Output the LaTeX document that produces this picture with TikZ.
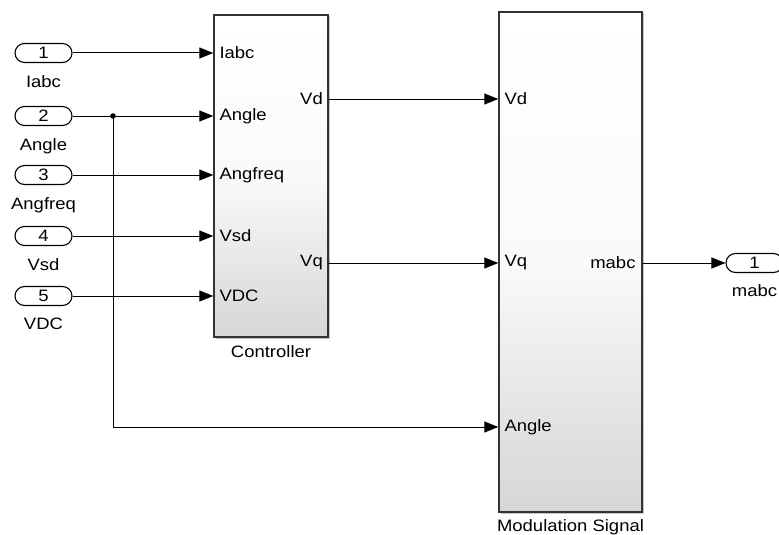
\documentclass[tikz,border=0pt]{standalone}
\usepackage{fontspec}
\setmainfont[FakeStretch=1.12]{Liberation Sans}
\usetikzlibrary{positioning,arrows.meta,shadows}

\begin{document}
\begin{tikzpicture}[x=1pt,y=-1pt,
		font=\fontsize{16.5}{19}\selectfont,
		port/.style={draw,line width=1.1pt,rounded corners=9.5pt,minimum width=57pt,minimum height=19pt,inner sep=0pt},
		blk/.style={draw=black!80,line width=1.4pt,top color=white,bottom color=black!16,middle color=black!2,
			drop shadow={shadow xshift=1.5pt,shadow yshift=-1.5pt,fill=black!45}},
		lbl/.style={inner sep=0pt,text height=12pt,text depth=3.5pt},
		sig/.style={line width=1pt,-{Triangle[length=14pt,width=11pt]}}]
	\useasboundingbox (0,0) rectangle (779,535);

	\node[port] (in1) at (43.5,53) {1};
	\node[port] (in2) at (43.5,116) {2};
	\node[port] (in3) at (43.5,175) {3};
	\node[port] (in4) at (43.5,236) {4};
	\node[port] (in5) at (43.5,296) {5};
	\node[lbl,below=12pt of in1] {Iabc};
	\node[lbl,below=12pt of in2] {Angle};
	\node[lbl,below=12pt of in3] {Angfreq};
	\node[lbl,below=12pt of in4] {Vsd};
	\node[lbl,below=11pt of in5] {VDC};

	\node[blk,minimum width=114pt,minimum height=322pt] (ctrl) at (271,176) {};
	\node[lbl,below=8pt of ctrl] {Controller};
	\node[blk,minimum width=143pt,minimum height=500pt] (mod) at (570.5,262) {};
	\node[lbl,below=7pt of mod] {Modulation Signal};

	\node[port] (out1) at (754.5,263) {1};
	\node[lbl,below=11pt of out1] {mabc};

	\foreach \p/\t in {in1/Iabc,in2/Angle,in3/Angfreq,in4/Vsd,in5/VDC} {
		\draw[sig] (\p) -- (ctrl.west |- \p);
		\node[anchor=west,inner sep=0pt] at ([xshift=6pt]ctrl.west |- \p) {\t};
	}

	\coordinate (vd) at (328,99);
	\coordinate (vq) at (328,263);
	\node[anchor=east,inner sep=0pt] at ([xshift=-5pt]vd) {Vd};
	\node[anchor=east,inner sep=0pt] at ([xshift=-5pt]vq) {Vq};
	\draw[sig] (vd) -- (mod.west |- vd);
	\draw[sig] (vq) -- (mod.west |- vq);

	\coordinate (jn) at (113,116);
	\coordinate (bend) at (113,427);
	\fill (jn) circle (2.8pt);
	\draw[sig] (jn) -- (bend) -- (mod.west |- bend);

	\node[anchor=west,inner sep=0pt] at ([xshift=6pt]mod.west |- vd) {Vd};
	\node[anchor=west,inner sep=0pt] at ([xshift=6pt]mod.west |- vq) {Vq};
	\node[anchor=west,inner sep=0pt] at ([xshift=6pt]mod.west |- bend) {Angle};
	\node[anchor=east,inner sep=0pt] at ([xshift=-7pt]mod.east |- out1) {mabc};
	\draw[sig] (mod.east |- out1) -- (out1);
\end{tikzpicture}
\end{document}
